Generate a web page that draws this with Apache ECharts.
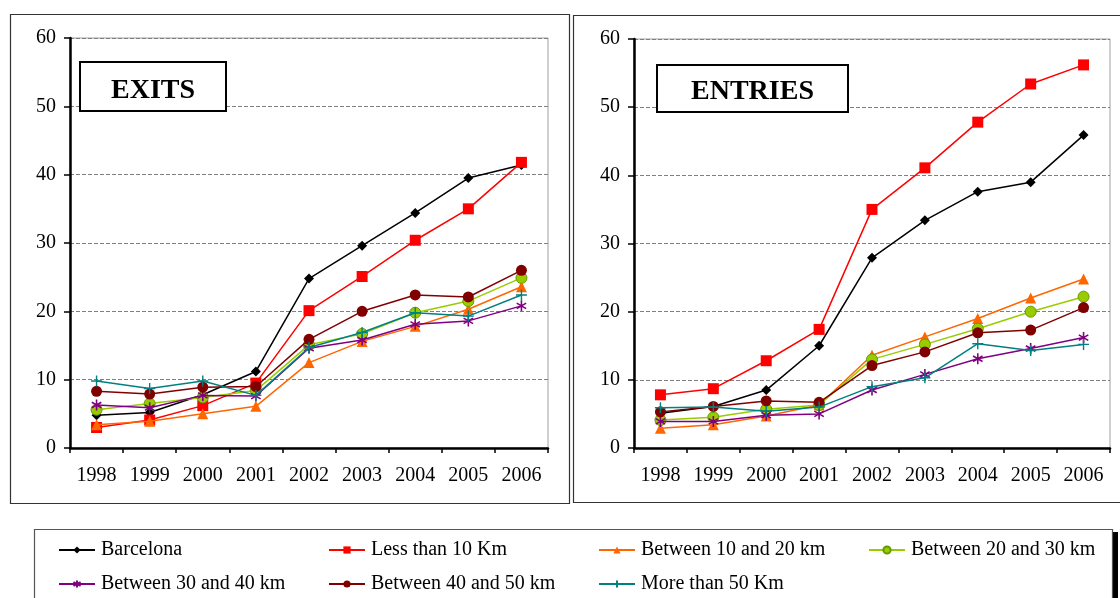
<!DOCTYPE html>
<html>
<head>
<meta charset="utf-8">
<script src="https://cdn.jsdelivr.net/npm/echarts@6/dist/echarts.min.js"></script>
<style>
  html, body { margin: 0; padding: 0; background: #fff; }
  #chart { width: 1120px; height: 598px; }
</style>
</head>
<body>
<div id="chart"></div>
<script>
// Years on the category axis
const years = ['1998', '1999', '2000', '2001', '2002', '2003', '2004', '2005', '2006'];
const yTicks = [0, 10, 20, 30, 40, 50, 60];

// Series names
const seriesNames = [
  'Barcelona',
  'Less than 10 Km',
  'Between 10 and 20 km',
  'Between 20 and 30 km',
  'Between 30 and 40 km',
  'Between 40 and 50 km',
  'More than 50 Km'
];

// EXITS panel
const exitsBarcelona = [4.8, 5.2, 7.8, 11.2, 24.8, 29.6, 34.4, 39.5, 41.4];
const exitsLess10    = [3.0, 4.1, 6.2, 9.5, 20.1, 25.1, 30.4, 35.0, 41.8];
const exits10to20    = [3.4, 3.9, 5.0, 6.1, 12.5, 15.6, 17.8, 20.3, 23.6];
const exits20to30    = [5.6, 6.5, 7.4, 8.4, 15.1, 16.7, 19.8, 21.5, 24.9];
const exits30to40    = [6.3, 5.9, 7.7, 7.6, 14.6, 15.8, 18.1, 18.6, 20.8];
const exits40to50    = [8.3, 7.9, 8.9, 9.0, 15.9, 20.0, 22.4, 22.1, 26.0];
const exitsMore50    = [9.8, 8.7, 9.8, 7.7, 14.7, 16.9, 19.8, 19.3, 22.4];

// ENTRIES panel
const entriesBarcelona = [5.1, 6.1, 8.5, 15.0, 27.9, 33.4, 37.6, 39.0, 45.9];
const entriesLess10    = [7.8, 8.7, 12.8, 17.4, 35.0, 41.1, 47.8, 53.4, 56.2];
const entries10to20    = [2.9, 3.4, 4.7, 6.3, 13.6, 16.3, 19.0, 22.0, 24.8];
const entries20to30    = [4.1, 4.5, 5.7, 6.3, 13.0, 15.2, 17.5, 20.0, 22.2];
const entries30to40    = [3.9, 3.9, 4.8, 5.0, 8.5, 10.8, 13.1, 14.6, 16.2];
const entries40to50    = [5.3, 6.1, 6.9, 6.7, 12.1, 14.1, 16.9, 17.3, 20.6];
const entriesMore50    = [5.9, 6.0, 5.4, 6.0, 9.0, 10.3, 15.3, 14.3, 15.2];

const exitsSets   = [exitsBarcelona, exitsLess10, exits10to20, exits20to30, exits30to40, exits40to50, exitsMore50];
const entriesSets = [entriesBarcelona, entriesLess10, entries10to20, entries20to30, entries30to40, entries40to50, entriesMore50];

const FONT = 'Liberation Serif';

// Marker and line styles for each series
const styles = [
  { color: '#000000', symbol: 'diamond', size: 10, item: { color: '#000000' } },
  { color: '#FF0000', symbol: 'rect', size: 11, item: { color: '#FF0000' } },
  { color: '#FF6600', symbol: 'triangle', size: 11, item: { color: '#FF6600' } },
  { color: '#99CC00', symbol: 'circle', size: 11, item: { color: '#99CC00', borderColor: '#669900', borderWidth: 1 } },
  { color: '#800080', symbol: 'path://M5,0L5,10M0.7,2.5L9.3,7.5M9.3,2.5L0.7,7.5', size: 11,
    item: { color: 'rgba(0,0,0,0)', borderColor: '#800080', borderWidth: 1.6 } },
  { color: '#800000', symbol: 'circle', size: 11, item: { color: '#800000' } },
  { color: '#008080', symbol: 'path://M5,0L5,10M0,5L10,5', size: 11,
    item: { color: 'rgba(0,0,0,0)', borderColor: '#008080', borderWidth: 1.4 } }
];

function makeSeries(sets, axisIdx) {
  return sets.map((data, i) => ({
    name: seriesNames[i],
    type: 'line',
    xAxisIndex: axisIdx,
    yAxisIndex: axisIdx,
    data: data,
    symbol: styles[i].symbol,
    symbolSize: styles[i].size,
    symbolKeepAspect: true,
    showAllSymbol: true,
    animation: false,
    lineStyle: { color: styles[i].color, width: 1.5 },
    itemStyle: styles[i].item,
    z: 2 + i
  }));
}

function xAxisFor(gridIndex) {
  return {
    type: 'category',
    gridIndex: gridIndex,
    data: years,
    boundaryGap: true,
    axisLine: { lineStyle: { color: '#000', width: 2.5 } },
    axisTick: { show: true, length: 5, lineStyle: { color: '#000', width: 1.5 } },
    axisLabel: { color: '#000', fontFamily: FONT, fontSize: 20, margin: 18 },
    splitLine: { show: false }
  };
}

function yAxisFor(gridIndex) {
  return {
    type: 'value',
    gridIndex: gridIndex,
    min: yTicks[0],
    max: yTicks[yTicks.length - 1],
    interval: yTicks[1] - yTicks[0],
    axisLine: { show: true, lineStyle: { color: '#000', width: 2.5 } },
    axisTick: { show: true, length: 6, lineStyle: { color: '#000', width: 1.5 } },
    axisLabel: { color: '#000', fontFamily: FONT, fontSize: 20, margin: 14 },
    splitLine: { show: true, lineStyle: { color: '#808080', type: [4, 2], width: 1 } }
  };
}

function legendFor(names, left) {
  return {
    data: names,
    orient: 'vertical',
    left: left,
    top: 540,
    padding: 0,
    itemWidth: 36,
    itemHeight: 9,
    itemGap: 14,
    selectedMode: false,
    textStyle: { fontFamily: FONT, fontSize: 20, color: '#000', padding: [0, 0, 0, 1] }
  };
}

const chart = echarts.init(document.getElementById('chart'), null, { renderer: 'canvas' });

chart.setOption({
  backgroundColor: '#ffffff',
  animation: false,
  grid: [
    { left: 70, top: 38, width: 478, height: 410, show: true, borderColor: '#a0a0a0', borderWidth: 1 },
    { left: 634, top: 39, width: 476, height: 409, show: true, borderColor: '#a0a0a0', borderWidth: 1 }
  ],
  xAxis: [xAxisFor(0), xAxisFor(1)],
  yAxis: [yAxisFor(0), yAxisFor(1)],
  legend: [
    legendFor([seriesNames[0], seriesNames[4]], 58),
    legendFor([seriesNames[1], seriesNames[5]], 328),
    legendFor([seriesNames[2], seriesNames[6]], 598),
    legendFor([seriesNames[3]], 868)
  ],
  graphic: [
    // panel frames
    { type: 'rect', shape: { x: 10.5, y: 14.5, width: 559, height: 489 },
      style: { fill: null, stroke: '#333', lineWidth: 1.2 }, z: -10 },
    { type: 'rect', shape: { x: 573.5, y: 15.5, width: 560, height: 487 },
      style: { fill: null, stroke: '#333', lineWidth: 1.2 }, z: -10 },
    // legend frame with its shadow
    { type: 'rect', shape: { x: 1113, y: 532, width: 5, height: 70 },
      style: { fill: '#000' }, z: -10 },
    { type: 'rect', shape: { x: 34.5, y: 529.5, width: 1078, height: 80 },
      style: { fill: '#fff', stroke: '#555', lineWidth: 1.2 }, z: -9 },
    // panel captions
    { type: 'rect', shape: { x: 80, y: 62, width: 146, height: 49 },
      style: { fill: '#fff', stroke: '#000', lineWidth: 2 }, z: 50 },
    { type: 'text', x: 153, y: 91, z: 51,
      style: { text: 'EXITS', fontFamily: FONT, fontWeight: 'bold', fontSize: 28,
               fill: '#000', textAlign: 'center', textVerticalAlign: 'middle' } },
    { type: 'rect', shape: { x: 657, y: 65, width: 191, height: 47 },
      style: { fill: '#fff', stroke: '#000', lineWidth: 2 }, z: 50 },
    { type: 'text', x: 752.5, y: 92, z: 51,
      style: { text: 'ENTRIES', fontFamily: FONT, fontWeight: 'bold', fontSize: 28,
               fill: '#000', textAlign: 'center', textVerticalAlign: 'middle' } }
  ],
  series: makeSeries(exitsSets, 0).concat(makeSeries(entriesSets, 1))
});
</script>
</body>
</html>
